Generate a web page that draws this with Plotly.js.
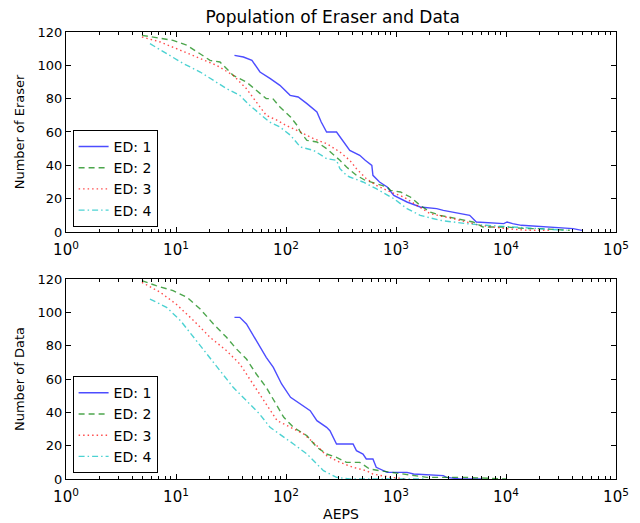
<!DOCTYPE html>
<html>
<head>
<meta charset="utf-8">
<script src="https://cdn.plot.ly/plotly-3.0.1.min.js"></script>
<style>html,body{margin:0;padding:0;background:#fff;}#chart{width:640px;height:523px;}</style>
</head>
<body>
<div id="chart"></div>
<script>
// ---- Data ----
var seriesNames = ['ED: 1', 'ED: 2', 'ED: 3', 'ED: 4'];

// Eraser population (top panel)
var eraserX1 = [34, 41, 49, 58, 72, 88, 109, 129, 155, 191, 209, 234, 288, 309, 380, 468, 525, 603, 617, 708, 832, 955, 1259, 1660, 2344, 2692, 3802, 4677, 5370, 9550, 10233, 11480, 13800, 25100, 40700, 49000];
var eraserY1 = [106, 105, 103, 96, 92, 88, 82, 81, 77, 72, 66, 60, 60, 57, 49, 46, 43, 40, 34, 30, 27, 22, 18, 15, 14, 13, 11, 10, 6, 5, 6, 5, 4, 3, 2, 1];
var eraserX2 = [4.9, 6.2, 9.4, 12.6, 16.6, 20.4, 25.1, 33.1, 43.7, 53.7, 66.1, 75.9, 88.1, 110, 126, 135, 155, 191, 234, 309, 355, 437, 525, 661, 832, 891, 1096, 1349, 1660, 2042, 2512, 5012, 6166, 10000, 15500, 20400, 38000];
var eraserY2 = [118, 117, 115, 112, 107, 103, 102, 94, 90, 85, 80, 80, 75, 69, 64, 60, 55, 54, 50, 43, 39, 34, 31, 29, 27, 25, 24, 21, 16, 12, 10, 6, 3, 3, 2, 2, 1];
var eraserX3 = [4.9, 7.2, 11, 16.6, 23.4, 33.1, 43.7, 53.7, 66.1, 83.2, 100, 135, 178, 234, 309, 380, 437, 537, 661, 891, 1175, 1549, 2042, 3311, 4365, 5754, 10000, 15500, 25000];
var eraserY3 = [117, 114, 109, 104, 100, 94, 86, 78, 70, 67, 64, 60, 56, 53, 48, 43, 38, 32, 28, 24, 21, 16, 11, 8, 6, 4, 2, 1, 1];
var eraserX4 = [5.8, 8.2, 11.7, 16.6, 21.9, 28.8, 38, 46.8, 57.5, 70.8, 88, 110, 135, 178, 234, 288, 309, 355, 380, 501, 661, 955, 1259, 1660, 2512, 4365, 6607, 11750, 20400, 35500];
var eraserY4 = [113, 107, 101, 96, 91, 86, 82, 76, 71, 66, 63, 58, 51, 49, 44, 43, 38, 34, 33, 30, 26, 20, 14, 10, 7, 5, 4, 3, 2, 1];

// Data population (bottom panel)
var dataX1 = [34, 38, 43.7, 53.7, 66.1, 76.7, 91.2, 110, 135, 166, 191, 234, 251, 288, 355, 407, 437, 501, 537, 617, 661, 832, 1259, 1445, 2692, 2884, 3802, 6100];
var dataY1 = [97, 97, 93, 83, 73, 67, 57, 49, 45, 41, 35, 31, 29, 21, 21, 21, 17, 15, 12, 12, 7, 4, 4, 3, 2, 1, 0, 0];
var dataX2 = [4.9, 6.6, 9.4, 12.6, 16.6, 21.9, 28.8, 35.5, 43.7, 53.7, 66.1, 83.2, 95.5, 117, 155, 191, 234, 288, 355, 468, 575, 708, 933, 1445, 1905, 4074, 7762, 10000];
var dataY2 = [119, 116, 113, 109, 102, 93, 85, 78, 72, 63, 55, 44, 37, 31, 26, 19, 15, 13, 10, 10, 6, 5, 4, 2, 1, 1, 0, 0];
var dataX3 = [4.9, 7.2, 10, 14.5, 20.4, 28.8, 38, 50, 66.1, 83.2, 110, 145, 191, 234, 309, 407, 537, 617, 891, 1259];
var dataY3 = [118, 112, 105, 95, 85, 77, 69, 57, 45, 35, 31, 27, 20, 14, 10, 7, 5, 3, 1, 0];
var dataX4 = [5.8, 8.2, 11, 14.5, 19.1, 25.1, 33.1, 43.7, 57.5, 71.6, 88, 117, 155, 219, 288, 380, 1780];
var dataY4 = [108, 103, 95, 85, 75, 65, 55, 47, 39, 31, 27, 21, 15, 5, 1, 0, 0];

var xTickVals = [1, 10, 100, 1000, 10000, 100000];
var xTickText = ['10<sup>0</sup>', '10<sup>1</sup>', '10<sup>2</sup>', '10<sup>3</sup>', '10<sup>4</sup>', '10<sup>5</sup>'];
var yTickVals = [0, 20, 40, 60, 80, 100, 120];

// ---- Styling ----
var colors = ['rgba(0,0,255,0.7)', 'rgba(0,128,0,0.7)', 'rgba(255,0,0,0.7)', 'rgba(0,191,191,0.7)'];
var dashes = ['solid', '6px,4px', '1.5px,3px', '6px,3px,1.5px,3px'];

var minorVals = [];
for (var d = 0; d < 5; d++) for (var m = 2; m <= 9; m++) minorVals.push(m * Math.pow(10, d));

var eraserX = [eraserX1, eraserX2, eraserX3, eraserX4];
var eraserY = [eraserY1, eraserY2, eraserY3, eraserY4];
var dataX = [dataX1, dataX2, dataX3, dataX4];
var dataY = [dataY1, dataY2, dataY3, dataY4];

var traces = [];
for (var i = 0; i < 4; i++) {
  traces.push({x: eraserX[i], y: eraserY[i], xaxis: 'x', yaxis: 'y', mode: 'lines', name: seriesNames[i],
    legend: 'legend', line: {color: colors[i], width: 1.4, dash: dashes[i]}});
}
for (var i = 0; i < 4; i++) {
  traces.push({x: dataX[i], y: dataY[i], xaxis: 'x2', yaxis: 'y2', mode: 'lines', name: seriesNames[i],
    legend: 'legend2', line: {color: colors[i], width: 1.4, dash: dashes[i]}});
}

var font = {family: 'DejaVu Sans', size: 13, color: '#000'};

function xAxis(anchor, title) {
  var a = {
    type: 'log', range: [0, 5], anchor: anchor,
    tickmode: 'array', tickvals: xTickVals, ticktext: xTickText,
    ticks: 'inside', ticklen: 5, tickwidth: 1, tickcolor: '#000',
    showline: true, linecolor: '#000', linewidth: 1, mirror: 'allticks',
    showgrid: false, zeroline: false, ticklabelstandoff: 4,
    tickfont: {family: 'DejaVu Sans', size: 15, color: '#000'},
    minor: {tickmode: 'array', tickvals: minorVals, ticks: 'inside', ticklen: 3, tickwidth: 1, tickcolor: '#000', showgrid: false}
  };
  if (title) a.title = {text: title, font: {family: 'DejaVu Sans', size: 14, color: '#000'}, standoff: 4};
  return a;
}
function yAxis(anchor, domain, title) {
  return {
    range: [0, 120], domain: domain, anchor: anchor,
    tickmode: 'array', tickvals: yTickVals,
    ticks: 'inside', ticklen: 5, tickwidth: 1, tickcolor: '#000',
    showline: true, linecolor: '#000', linewidth: 1, mirror: 'allticks',
    showgrid: false, zeroline: false,
    tickfont: {family: 'DejaVu Sans', size: 13, color: '#000'},
    title: {text: title, font: {family: 'DejaVu Sans', size: 13, color: '#000'}, standoff: 10}
  };
}

var legendBase = {
  bgcolor: '#fff', bordercolor: '#000', borderwidth: 1,
  font: {family: 'DejaVu Sans', size: 14, color: '#000'},
  xanchor: 'left', yanchor: 'bottom', tracegroupgap: 0
};

var layout = {
  width: 640, height: 523,
  margin: {l: 66, r: 24, t: 32, b: 44},
  paper_bgcolor: '#fff', plot_bgcolor: '#fff',
  font: font,
  showlegend: true,
  title: {text: 'Population of Eraser and Data', font: {family: 'DejaVu Sans', size: 17, color: '#000'},
    x: 0.52, xanchor: 'center', y: 0.967, yanchor: 'middle'},
  xaxis: xAxis('y', null),
  yaxis: yAxis('x', [0.5526, 1], 'Number of Eraser'),
  xaxis2: xAxis('y2', 'AEPS'),
  yaxis2: yAxis('x2', [0, 0.4474], 'Number of Data'),
  legend: Object.assign({}, legendBase, {x: 0.012, y: 0.564}),
  legend2: Object.assign({}, legendBase, {x: 0.012, y: 0.013})
};

Plotly.newPlot('chart', traces, layout, {displayModeBar: false, staticPlot: true});
</script>
</body>
</html>
